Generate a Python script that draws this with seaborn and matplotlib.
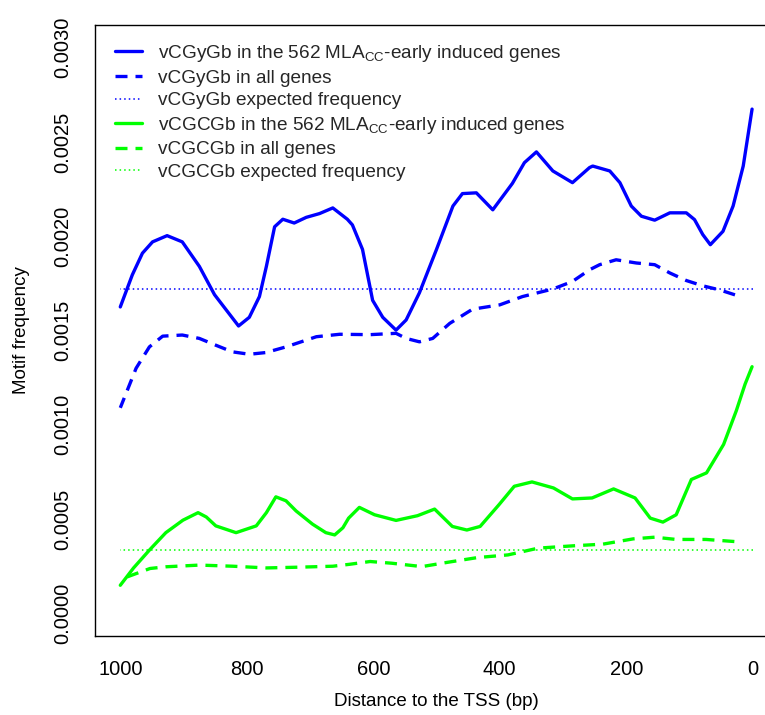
import numpy as np
import pandas as pd
import matplotlib
matplotlib.use("Agg")
import matplotlib.pyplot as plt
import seaborn as sns

# ---------------- data ----------------
blue_ind_x = [1000, 981, 965, 949, 926, 902, 875, 851, 835, 813, 796, 780, 769, 756, 743, 725,
              706, 685, 664, 641, 633, 617, 601, 585, 564, 548, 527, 500, 474, 459, 437, 411,
              380, 361, 342, 316, 285, 258, 253, 226, 210, 192, 176, 155, 131, 105, 92, 79,
              67, 47, 31, 15, 1]
blue_ind_y = [0.001625, 0.001795, 0.00191, 0.00197, 0.002003, 0.00197, 0.00184, 0.00169, 0.00162,
              0.001524, 0.00157, 0.00168, 0.00184, 0.00205, 0.00209, 0.00207, 0.00210, 0.00212,
              0.00215, 0.00209, 0.00206, 0.00193, 0.00166, 0.00157, 0.001502, 0.001556, 0.00170,
              0.00193, 0.00216, 0.002226, 0.00223, 0.00214, 0.00228, 0.00239, 0.002447, 0.002346,
              0.002284, 0.002364, 0.002372, 0.002346, 0.002284, 0.00216, 0.002106, 0.002085,
              0.002124, 0.002124, 0.002088, 0.002009, 0.001955, 0.002026, 0.00216, 0.002372,
              0.002674]

blue_all_x = [1000, 975, 954, 933, 902, 875, 849, 823, 796, 770, 738, 690, 653, 605, 564, 548,
              527, 506, 479, 443, 400, 364, 316, 285, 258, 242, 216, 184, 155, 131, 105, 79,
              52, 28]
blue_all_y = [0.00109, 0.00130, 0.001413, 0.00147, 0.001476, 0.001458, 0.001422, 0.001387,
              0.001374, 0.001383, 0.001413, 0.001467, 0.00148, 0.001478, 0.001485, 0.001458,
              0.00144, 0.001458, 0.001538, 0.001613, 0.001636, 0.00168, 0.00172, 0.00176,
              0.001822, 0.001849, 0.001875, 0.001858, 0.001849, 0.001805, 0.001765, 0.001737,
              0.001715, 0.001689]

blue_expected = 0.001719

green_ind_x = [1000, 979, 953, 928, 901, 877, 864, 849, 817, 785, 769, 754, 738, 722, 696, 675,
               661, 648, 639, 622, 598, 564, 530, 503, 475, 452, 431, 401, 377, 349, 315, 285,
               254, 220, 186, 162, 142, 121, 97, 73, 46, 26, 12, 1]
green_ind_y = [0.000149, 0.000241, 0.000339, 0.000428, 0.000494, 0.000534, 0.000511, 0.000464,
               0.000428, 0.000464, 0.000534, 0.000618, 0.000597, 0.000543, 0.000473, 0.000428,
               0.000416, 0.000454, 0.000505, 0.000562, 0.000523, 0.000493, 0.000518, 0.000553,
               0.000461, 0.000442, 0.000461, 0.000577, 0.000674, 0.000697, 0.000665, 0.000607,
               0.000612, 0.00066, 0.000612, 0.000505, 0.000484, 0.000523, 0.00071, 0.000745,
               0.000896, 0.001074, 0.001216, 0.001308]

green_all_x = [1000, 979, 953, 928, 875, 822, 769, 717, 664, 638, 605, 571, 523, 482, 435, 387,
               339, 285, 237, 189, 155, 121, 74, 29]
green_all_y = [0.00018, 0.000206, 0.000238, 0.000247, 0.000256, 0.00025, 0.000241, 0.000245,
               0.00025, 0.00026, 0.000275, 0.000266, 0.000248, 0.000271, 0.000296, 0.00031,
               0.000346, 0.000358, 0.000367, 0.000395, 0.000404, 0.000392, 0.000392, 0.000381]

green_expected = 0.000336

expected_x = [1000, 0]

labels = [
    r"vCGyGb in the 562 MLA$_{\mathregular{CC}}$-early induced genes",
    "vCGyGb in all genes",
    "vCGyGb expected frequency",
    r"vCGCGb in the 562 MLA$_{\mathregular{CC}}$-early induced genes",
    "vCGCGb in all genes",
    "vCGCGb expected frequency",
]
x_ticks = [1000, 800, 600, 400, 200, 0]
y_ticks = [0.0, 0.0005, 0.0010, 0.0015, 0.0020, 0.0025, 0.0030]
y_tick_labels = ["0.0000", "0.0005", "0.0010", "0.0015", "0.0020", "0.0025", "0.0030"]

# ---------------- style ----------------
sns.set_theme(style="white")
plt.rcParams["font.family"] = ["Liberation Sans", "DejaVu Sans"]
plt.rcParams["mathtext.fontset"] = "custom"
plt.rcParams["mathtext.rm"] = "Liberation Sans"
plt.rcParams["mathtext.it"] = "Liberation Sans:italic"
plt.rcParams["mathtext.bf"] = "Liberation Sans:bold"

FS_LABEL = 13.5
FS_TICK = 14.5
FS_LEG = 13.7
BLUE = "#0000FF"
GREEN = "#00FF00"

W, H = 765, 715
fig = plt.figure(figsize=(W / 100, H / 100), dpi=100)
fig.patch.set_facecolor("white")
left_px, right_px, top_px, bottom_px = 95, 778, 25, 636
ax = fig.add_axes([left_px / W, (H - bottom_px) / H,
                   (right_px - left_px) / W, (bottom_px - top_px) / H])

solid_lw = 2.4
dash = (0, (3.6, 2.4))
dot = (0, (1, 2.0))

series = [
    (blue_ind_x, blue_ind_y, BLUE, solid_lw, "-"),
    (blue_all_x, blue_all_y, BLUE, solid_lw, dash),
    (expected_x, [blue_expected] * 2, BLUE, 1.1, dot),
    (green_ind_x, green_ind_y, GREEN, solid_lw, "-"),
    (green_all_x, green_all_y, GREEN, solid_lw, dash),
    (expected_x, [green_expected] * 2, GREEN, 1.1, dot),
]

handles = []
for xs, ys, col, lw, ls in series:
    df = pd.DataFrame({"x": xs, "y": ys})
    sns.lineplot(data=df, x="x", y="y", ax=ax, color=col, linewidth=lw,
                 errorbar=None, legend=False)
    line = ax.get_lines()[-1]
    line.set_linestyle(ls)
    line.set_solid_capstyle("round")
    line.set_solid_joinstyle("round")
    line.set_dash_capstyle("butt")
    handles.append(line)

ax.set_xlim(1040, -40)
ax.set_ylim(-0.00012, 0.00312)

ax.set_xticks(x_ticks)
ax.set_xticklabels([str(v) for v in x_ticks])
ax.set_yticks(y_ticks)
ax.set_yticklabels(y_tick_labels)

for s in ax.spines.values():
    s.set_visible(True)
    s.set_color("black")
    s.set_linewidth(1.0)

ax.tick_params(axis="both", direction="out", length=8.6, width=1.0, color="black",
               labelsize=FS_TICK, labelcolor="black")
ax.tick_params(axis="x", pad=8.5)
ax.tick_params(axis="y", pad=8, labelrotation=90)
for lab in ax.get_yticklabels():
    lab.set_va("center")

ax.set_xlabel("Distance to the TSS (bp)", fontsize=FS_LABEL, color="black")
ax.set_ylabel("Motif frequency", fontsize=FS_LABEL, color="black")
axh = bottom_px - top_px
axw = right_px - left_px
ax.xaxis.set_label_coords(((752 + 120) / 2 - left_px) / axw, -(701 - bottom_px) / axh)
ax.xaxis.label.set_va("center")
ax.yaxis.set_label_coords((22 - left_px) / axw, 0.5)
ax.yaxis.label.set_va("center")
ax.grid(False)

leg = ax.legend(handles, labels, loc="upper left",
                bbox_to_anchor=(115 / W, (H - 43) / H), bbox_transform=fig.transFigure,
                frameon=False, fontsize=FS_LEG, handlelength=1.42, handletextpad=0.84,
                labelspacing=0.28, borderpad=0, borderaxespad=0)

fig.savefig("out.png", dpi=100, facecolor="white")
